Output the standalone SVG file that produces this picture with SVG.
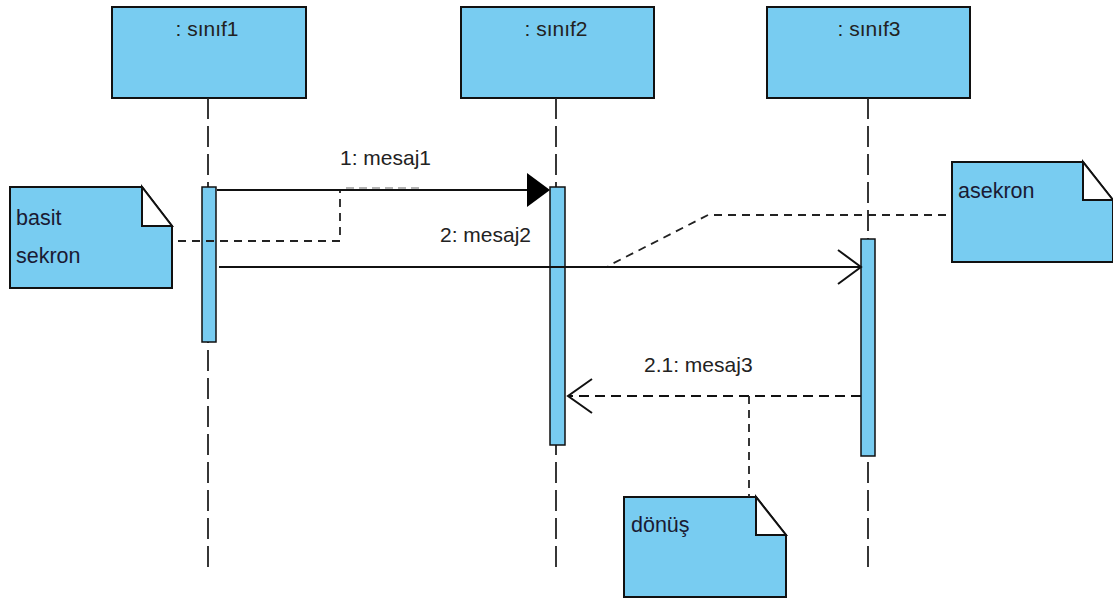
<svg xmlns="http://www.w3.org/2000/svg" width="1113" height="598" viewBox="0 0 1113 598">
<style>
.box{fill:#78CCF1;stroke:#111;stroke-width:2}
.bar{fill:#78CCF1;stroke:#111;stroke-width:1.5}
.life{stroke:#222;stroke-width:1.8;stroke-dasharray:21 7;fill:none}
.msg{stroke:#111;stroke-width:2;fill:none}
.dash{stroke:#111;stroke-width:2;stroke-dasharray:10 6;fill:none}
.ndash{stroke:#222;stroke-width:1.8;stroke-dasharray:8 6;fill:none}
.fold{fill:#fff;stroke:#111;stroke-width:2;stroke-linejoin:miter}
.t{font-family:"Liberation Sans",Arial,sans-serif;font-size:21px;fill:#222}
.nt{font-family:"Liberation Sans",Arial,sans-serif;font-size:21.5px;fill:#1a1a33}
</style>
<rect width="1113" height="598" fill="#fff"/>
<g id="sinif1">
<rect class="box" x="112" y="7" width="194" height="91"/>
<text class="t" x="207" y="36" text-anchor="middle">: sınıf1</text>
<line class="life" x1="208" y1="98" x2="208" y2="572"/>
<rect class="bar" x="202" y="187" width="14" height="155"/>
</g>
<g id="sinif2">
<rect class="box" x="461" y="7" width="193" height="91"/>
<text class="t" x="556" y="36" text-anchor="middle">: sınıf2</text>
<line class="life" x1="556" y1="98" x2="556" y2="572"/>
<rect class="bar" x="550" y="187" width="15" height="258"/>
</g>
<g id="sinif3">
<rect class="box" x="767" y="7" width="203" height="91"/>
<text class="t" x="869" y="36" text-anchor="middle">: sınıf3</text>
<line class="life" x1="868" y1="98" x2="868" y2="572"/>
<rect class="bar" x="861" y="239" width="14" height="217"/>
</g>
<g id="note-basit">
<path class="box" d="M10,187 H142 L172,226 V288 H10 Z"/>
<path class="fold" d="M142,187 V226 H172 Z"/>
<text class="nt" x="16" y="225">basit</text>
<text class="nt" x="16" y="263">sekron</text>
</g>
<g id="note-asekron">
<path class="box" d="M952,162 H1083 L1113,200 V262 H952 Z"/>
<path class="fold" d="M1083,162 V200 H1113 Z"/>
<text class="nt" x="958" y="198">asekron</text>
</g>
<g id="note-donus">
<path class="box" d="M624,497 H756 L786,535 V597 H624 Z"/>
<path class="fold" d="M756,497 V535 H786 Z"/>
<text class="nt" x="631" y="532">dönüş</text>
</g>
<g id="connectors">
<line class="msg" x1="217" y1="190" x2="530" y2="190"/>
<polygon points="550,190 527,173 527,207" fill="#000"/>
<text class="t" x="340" y="165">1: mesaj1</text>
<line class="msg" x1="219" y1="267" x2="861" y2="267"/>
<polyline class="msg" points="838,250 861,267 838,284"/>
<text class="t" x="440" y="242">2: mesaj2</text>
<line class="dash" x1="861" y1="396" x2="568" y2="396"/>
<polyline class="msg" points="592,379 568,396 592,413"/>
<text class="t" x="644" y="372">2.1: mesaj3</text>
<polyline class="ndash" points="178,241 340,241 340,191"/>
<line x1="346" y1="188" x2="422" y2="188" stroke="#999" stroke-width="1.5" stroke-dasharray="8 5"/>
<polyline class="ndash" points="946,215 708,215 608,266"/>
<polyline class="ndash" points="749,396 749,497"/>
</g>
</svg>
